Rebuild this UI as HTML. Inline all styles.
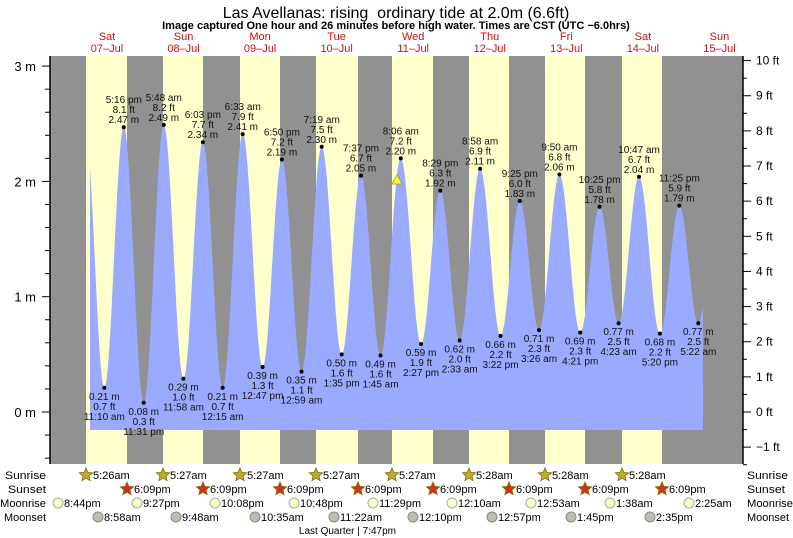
<!DOCTYPE html>
<html><head><meta charset="utf-8"><style>
body{margin:0;background:#fff;}
svg{display:block;font-family:"Liberation Sans",sans-serif;}
</style></head><body>
<svg id="s" width="793" height="538" xmlns="http://www.w3.org/2000/svg">
<text x="396" y="18" font-size="16" text-anchor="middle" xml:space="preserve">Las Avellanas: rising  ordinary tide at 2.0m (6.6ft)</text>
<text x="396" y="29" font-size="11" font-weight="bold" text-anchor="middle">Image captured One hour and 26 minutes before high water. Times are CST (UTC −6.0hrs)</text>
<g id="g"></g>
</svg>
<script>
var g=document.getElementById('g'),h='';
function X(t){return 68.7+3.19*t;}
function Y(m){return 412-115.3*m;}
h+='<rect x="50" y="56" width="693" height="408" fill="#919191"/>';
var sr=[86,163,240,316,392,469,545,622],ss=[127,203,280,358,433,509,585,662];
for(var i=0;i<8;i++)h+='<rect x="'+sr[i]+'" y="56" width="'+(ss[i]-sr[i])+'" height="408" fill="#ffffcc"/>';
var dn=['Sat','Sun','Mon','Tue','Wed','Thu','Fri','Sat','Sun'],dd=['07','08','09','10','11','12','13','14','15'];
for(var i=0;i<9;i++){var cx=X(12+24*i);h+='<text x="'+cx+'" y="40" font-size="11" fill="#cc1111" text-anchor="middle">'+dn[i]+'</text><text x="'+cx+'" y="52" font-size="11" fill="#cc1111" text-anchor="middle">'+dd[i]+'–Jul</text>';}
function T(d,s){var p=s.match(/(\d+):(\d+)\s*(am|pm)/);var hh=+p[1]%12;if(p[3]=='pm')hh+=12;return d*24+hh+p[2]/60;}
var E=[[0,'5:10 am',2.45,1,0,0],
[0,'11:10 am',0.21,0,'0.7'],[0,'5:16 pm',2.47,1,'8.1'],[0,'11:31 pm',0.08,0,'0.3'],
[1,'5:48 am',2.49,1,'8.2'],[1,'11:58 am',0.29,0,'1.0'],[1,'6:03 pm',2.34,1,'7.7'],
[2,'12:15 am',0.21,0,'0.7'],[2,'6:33 am',2.41,1,'7.9'],[2,'12:47 pm',0.39,0,'1.3'],[2,'6:50 pm',2.19,1,'7.2'],
[3,'12:59 am',0.35,0,'1.1'],[3,'7:19 am',2.30,1,'7.5'],[3,'1:35 pm',0.50,0,'1.6'],[3,'7:37 pm',2.05,1,'6.7'],
[4,'1:45 am',0.49,0,'1.6'],[4,'8:06 am',2.20,1,'7.2'],[4,'2:27 pm',0.59,0,'1.9'],[4,'8:29 pm',1.92,1,'6.3'],
[5,'2:33 am',0.62,0,'2.0'],[5,'8:58 am',2.11,1,'6.9'],[5,'3:22 pm',0.66,0,'2.2'],[5,'9:25 pm',1.83,1,'6.0'],
[6,'3:26 am',0.71,0,'2.3'],[6,'9:50 am',2.06,1,'6.8'],[6,'4:21 pm',0.69,0,'2.3'],[6,'10:25 pm',1.78,1,'5.8'],
[7,'4:23 am',0.77,0,'2.5'],[7,'10:47 am',2.04,1,'6.7'],[7,'5:20 pm',0.68,0,'2.2'],[7,'11:25 pm',1.79,1,'5.9'],
[8,'5:22 am',0.77,0,'2.5'],[8,'11:30 am',2.0,1,0]];
var P=E.map(function(e){return [T(e[0],e[1]),e[2]];});
function lev(t){for(var i=0;i<P.length-1;i++){if(t>=P[i][0]&&t<=P[i+1][0]){var f=(t-P[i][0])/(P[i+1][0]-P[i][0]);return P[i][1]+(P[i+1][1]-P[i][1])*(1-Math.cos(Math.PI*f))/2;}}return 0;}
var t0=(90-68.7)/3.19,t1=(703-68.7)/3.19,d='M90,430';
for(var t=t0;t<=t1;t+=0.1)d+=' L'+X(t).toFixed(1)+','+Y(lev(t)).toFixed(1);
d+=' L703,430 Z';
h+='<path d="'+d+'" fill="#9aabff"/>';
for(var i=1;i<E.length-1;i++){var e=E[i],x=X(P[i][0]),y=Y(e[2]);h+='<circle cx="'+x+'" cy="'+y+'" r="2" fill="#000"/>';
var L=[e[1],e[4]+' ft',e[2].toFixed(2)+' m'];
if(e[3]){h+='<text font-size="10" text-anchor="middle" fill="#111"><tspan x="'+x+'" y="'+(y-24)+'">'+L[0]+'</tspan><tspan x="'+x+'" y="'+(y-14)+'">'+L[1]+'</tspan><tspan x="'+x+'" y="'+(y-4)+'">'+L[2]+'</tspan></text>';}
else{h+='<text font-size="10" text-anchor="middle" fill="#111"><tspan x="'+x+'" y="'+(y+12)+'">'+L[2]+'</tspan><tspan x="'+x+'" y="'+(y+22)+'">'+L[1]+'</tspan><tspan x="'+x+'" y="'+(y+32)+'">'+L[0]+'</tspan></text>';}}
h+='<polygon points="397,175 392,184 402,184" fill="#ffff33" stroke="#999900" stroke-width="0.7"/>';
h+='<line x1="50" y1="56" x2="50" y2="464" stroke="#000" stroke-width="1.5"/><line x1="743" y1="56" x2="743" y2="464" stroke="#000" stroke-width="1.5"/>';
for(var m=-0.4;m<=3.01;m+=0.2){var y=Y(m),maj=Math.abs(m-Math.round(m))<0.01;h+='<line x1="'+(maj?42:45)+'" y1="'+y+'" x2="50" y2="'+y+'" stroke="#000"/>';if(maj)h+='<text x="36" y="'+(y+5)+'" font-size="13" text-anchor="end">'+Math.round(m)+' m</text>';}
for(var f=-1.5;f<=10.01;f+=0.5){var y=412-35.14*f,maj=Math.abs(f-Math.round(f))<0.01;h+='<line x1="743" y1="'+y+'" x2="'+(maj?751:747)+'" y2="'+y+'" stroke="#000"/>';if(maj)h+='<text x="756" y="'+(y+4)+'" font-size="12">'+(Math.round(f)<0?'−'+(-Math.round(f)):Math.round(f))+' ft</text>';}
var rows=['Sunrise','Sunset','Moonrise','Moonset'],rw=[41,38,46,42];
for(var i=0;i<4;i++){var y=479+14*i;h+='<text x="'+(46-rw[i])+'" y="'+y+'" font-size="11" textLength="'+rw[i]+'" lengthAdjust="spacingAndGlyphs">'+rows[i]+'</text><text x="747" y="'+y+'" font-size="11" textLength="'+rw[i]+'" lengthAdjust="spacingAndGlyphs">'+rows[i]+'</text>';}
function star(cx,cy,fill){var p=[];for(var k=0;k<10;k++){var r=k%2?3.2:7,a=-Math.PI/2+k*Math.PI/5;p.push((cx+r*Math.cos(a)).toFixed(1)+','+(cy+r*Math.sin(a)).toFixed(1));}return '<polygon points="'+p.join(' ')+'" fill="'+fill+'" stroke="#8a6a00" stroke-width="0.8"/>';}
var srt=['5:26am','5:27am','5:27am','5:27am','5:27am','5:28am','5:28am','5:28am'];
for(var i=0;i<8;i++){h+=star(sr[i],475,'#b5b030')+'<text x="'+(sr[i]+7)+'" y="479" font-size="11">'+srt[i]+'</text>';h+=star(ss[i],489,'#d03020')+'<text x="'+(ss[i]+7)+'" y="493" font-size="11">6:09pm</text>';}
var mr=[[58,'8:44pm'],[137,'9:27pm'],[215,'10:08pm'],[294,'10:48pm'],[373,'11:29pm'],[452,'12:10am'],[531,'12:53am'],[610,'1:38am'],[689,'2:25am']];
mr.forEach(function(m){h+='<circle cx="'+m[0]+'" cy="503" r="5" fill="#ffffc8" stroke="#aaa"/><text x="'+(m[0]+6)+'" y="507" font-size="11">'+m[1]+'</text>';});
var ms=[[98,'8:58am'],[176,'9:48am'],[255,'10:35am'],[334,'11:22am'],[413,'12:10pm'],[492,'12:57pm'],[571,'1:45pm'],[650,'2:35pm']];
ms.forEach(function(m){h+='<circle cx="'+m[0]+'" cy="517" r="5" fill="#bdbdb0" stroke="#888"/><text x="'+(m[0]+6)+'" y="521" font-size="11">'+m[1]+'</text>';});
h+='<text x="396" y="534" font-size="10" text-anchor="end">Last Quarter | 7:47pm</text>';
g.innerHTML=h;
</script>
</body></html>
